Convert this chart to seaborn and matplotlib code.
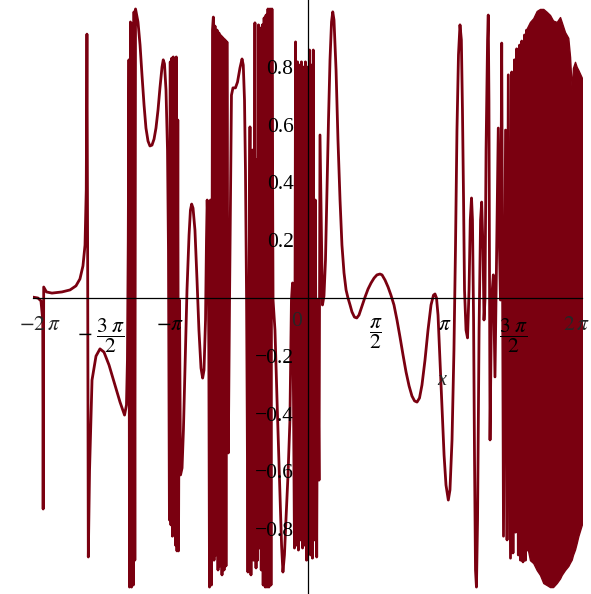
import numpy as np
import matplotlib
matplotlib.use("Agg")
import matplotlib.pyplot as plt
import seaborn as sns

# curve vertices (x in multiples of pi)
curve_x_pi = [
    -2.000, -1.964, -1.942, -1.929, -1.926, -1.922, -1.902, -1.862, -1.789, -1.730,
    -1.687, -1.658, -1.636, -1.621, -1.612, -1.607, -1.602, -1.597, -1.588, -1.570,
    -1.541, -1.512, -1.483, -1.446, -1.403, -1.366, -1.333, -1.319, -1.312, -1.306,
    -1.301, -1.297, -1.290, -1.282, -1.275, -1.269, -1.264, -1.258, -1.253, -1.246,
    -1.235, -1.220, -1.206, -1.191, -1.177, -1.162, -1.148, -1.133, -1.118, -1.104,
    -1.089, -1.075, -1.060, -1.051, -1.042, -1.031, -1.020, -1.013,
    -1.006, -1.000, -0.995, -0.989, -0.984, -0.978, -0.973, -0.967, -0.962, -0.956,
    -0.951, -0.945, -0.940, -0.933, -0.925,
    -0.914, -0.904, -0.893, -0.878, -0.863, -0.853, -0.844, -0.834, -0.820, -0.805,
    -0.791, -0.776, -0.764, -0.754, -0.743, -0.736, -0.731, -0.725, -0.719,
    -0.714, -0.707, -0.700, -0.692, -0.686, -0.681, -0.674, -0.667, -0.659, -0.652,
    -0.645, -0.638, -0.630, -0.623, -0.616, -0.608, -0.601, -0.594, -0.587, -0.577,
    -0.568,
    -0.561, -0.554, -0.543, -0.525, -0.510, -0.492, -0.477, -0.468, -0.459, -0.452,
    -0.444, -0.439,
    -0.434, -0.426, -0.419, -0.412, -0.401, -0.393, -0.383, -0.375, -0.370, -0.364,
    -0.357, -0.351, -0.342, -0.337, -0.329, -0.323, -0.316, -0.308, -0.302, -0.295,
    -0.288, -0.281, -0.273, -0.266, -0.259, -0.251,
    -0.237, -0.222, -0.204, -0.189, -0.179, -0.168, -0.157, -0.142, -0.128, -0.117,
    -0.109,
    -0.102, -0.095, -0.087, -0.080, -0.073, -0.066, -0.058, -0.051, -0.044, -0.036,
    -0.029, -0.022, -0.015, -0.007, 0.000, 0.007, 0.015, 0.022, 0.029, 0.036,
    0.042, 0.050, 0.057, 0.067, 0.074, 0.084, 0.091, 0.109, 0.120,
    0.131, 0.142, 0.153, 0.164, 0.175, 0.184, 0.193, 0.208, 0.222, 0.237,
    0.251, 0.266, 0.281, 0.295, 0.310, 0.324, 0.342, 0.359, 0.375, 0.397,
    0.419, 0.441, 0.463, 0.485, 0.506, 0.528, 0.543, 0.565, 0.587, 0.608,
    0.630, 0.652, 0.674, 0.696, 0.718, 0.740, 0.761, 0.780, 0.798, 0.816,
    0.834, 0.856, 0.878, 0.900, 0.918, 0.929, 0.940, 0.951, 0.965, 0.980,
    0.995, 1.009, 1.026, 1.038, 1.053, 1.067, 1.078, 1.089, 1.100, 1.111,
    1.121, 1.129, 1.137, 1.144, 1.155, 1.166, 1.177, 1.186, 1.195, 1.202,
    1.210, 1.217, 1.224, 1.231, 1.239, 1.250, 1.261, 1.269, 1.279, 1.286,
    1.293, 1.301, 1.312, 1.317, 1.322, 1.330, 1.341, 1.354, 1.366, 1.377,
    1.390, 1.399, 1.406, 1.415, 1.428, 1.443, 1.454, 1.463, 1.479, 1.488,
    1.497, 1.508, 1.516, 1.524, 1.536, 1.545, 1.552, 1.561, 1.570, 1.581,
    1.588, 1.596, 1.603,
]
curve_y = [
    0.003, 0.000, -0.010, -0.076, -0.730, 0.038, 0.021, 0.017, 0.021, 0.028,
    0.042, 0.066, 0.111, 0.183, 0.374, 0.913, 0.166, -0.896, -0.595, -0.284,
    -0.201, -0.176, -0.187, -0.232, -0.301, -0.360, -0.405, -0.370, -0.215, 0.201,
    0.824, -1.000, 0.955, -1.000, 0.948, -0.993, 0.990, -0.907, 1.000, 0.983,
    0.955, 0.875, 0.772, 0.668, 0.588, 0.543, 0.526, 0.529, 0.550, 0.588,
    0.651, 0.727, 0.799, 0.824, 0.810, 0.720, 0.512, 0.166,
    -0.768, 0.817, -0.785, 0.830, -0.824, 0.834, -0.803, 0.824, -0.855, 0.834,
    -0.875, 0.616, -0.875, -0.007, -0.612,
    -0.588, -0.457, -0.249, 0.028, 0.218, 0.304, 0.325, 0.311, 0.235, 0.062,
    -0.111, -0.242, -0.277, -0.249, -0.076, 0.201, 0.339, 0.235, -0.180,
    -1.000, 0.339, -0.993, 0.927, 0.972, -0.907, 0.941, -0.889, 0.927, -0.941,
    0.917, -0.927, 0.907, -0.958, 0.900, -0.941, 0.893, -0.927, 0.886, -0.536,
    -0.007,
    0.339, 0.702, 0.727, 0.727, 0.747, 0.796, 0.827, 0.806, 0.685, 0.443,
    0.000, -0.422,
    -0.948, -0.007, 0.592, -0.958, 0.512, -0.907, 0.952, -0.934, 0.478, -0.907,
    0.945, -0.865, 0.934, -0.941, 0.945, -0.993, 0.969, -1.000, 0.979, -1.000,
    1.000, -1.000, 1.000, -0.993, 1.000, -0.007,
    -0.111, -0.353, -0.630, -0.855, -0.948, -0.889, -0.768, -0.612, -0.422, -0.007,
    0.052,
    -0.353, -0.865, 0.886, -0.855, 0.817, -0.872, 0.806, -0.837, 0.817, -0.865,
    0.799, -0.855, 0.817, -0.907, 0.799, -0.820, 0.858, -0.889, 0.806, -0.900,
    0.858, -0.837, 0.339, -0.896, -0.007, -0.630, 0.564, -0.024, 0.007,
    0.131, 0.374, 0.616, 0.824, 0.955, 0.990, 0.962, 0.789, 0.547, 0.339,
    0.183, 0.087, 0.028, 0.000, -0.024, -0.048, -0.066, -0.069, -0.059, -0.028,
    0.003, 0.031, 0.052, 0.069, 0.080, 0.083, 0.080, 0.062, 0.038, 0.010,
    -0.024, -0.076, -0.135, -0.197, -0.256, -0.304, -0.339, -0.356, -0.360, -0.346,
    -0.301, -0.215, -0.111, -0.024, 0.010, 0.014, 0.000, -0.059, -0.215, -0.388,
    -0.543, -0.647, -0.699, -0.664, -0.491, -0.180, 0.166, 0.581, 0.841, 0.945,
    0.893, 0.651, 0.339, 0.028, -0.111, -0.138, 0.028, 0.270, 0.346, 0.270,
    -0.076, -0.561, -0.941, -1.000, -0.768, -0.111, 0.270, 0.332, 0.166, -0.076,
    -0.007, 0.512, 0.893, 0.979, 0.685, -0.491, -0.007, 0.080, -0.273, 0.131,
    0.588, 0.166, -0.007, 0.882, -0.824, 0.581, -0.837, 0.772, -0.900, 0.782,
    -0.882, 0.824, -0.810, 0.862, -0.889, 0.875, -0.907, 0.889, -0.913, 0.910,
    -0.907, 0.927, -0.872,
]

# near 2*pi the oscillation fills a solid band: upper and lower edge
band_x_pi = [1.599, 1.621, 1.645, 1.670, 1.694, 1.718, 1.743, 1.767, 1.789, 1.816,
             1.840, 1.852, 1.876, 1.900, 1.913, 1.925, 1.934, 1.949, 1.961, 1.973, 2.000]
band_top = [0.934, 0.955, 0.968, 0.993, 1.000, 1.000, 0.990, 0.979, 0.960, 0.955,
            0.972, 0.955, 0.920, 0.900, 0.834, 0.720, 0.796, 0.817, 0.800, 0.789, 0.761]
band_bottom = [-0.855, -0.907, -0.917, -0.941, -0.958, -0.986, -0.993, -1.000, -1.000, -0.986,
               -0.970, -0.958, -0.941, -0.927, -0.915, -0.905, -0.889, -0.870, -0.848, -0.824, -0.782]

x_ticks_pi = [-2, -1.5, -1, -0.5, 0.5, 1, 1.5, 2]
# the two end labels are placed by hand so they stay inside the picture
x_tick_labels = ["", r"$-\;\dfrac{3\ \pi}{2}$", r"$-\pi$", "",
                 r"$\dfrac{\pi}{2}$", r"$\pi$", r"$\dfrac{3\ \pi}{2}$", ""]
y_ticks = [-0.8, -0.6, -0.4, -0.2, 0.2, 0.4, 0.6, 0.8]
y_tick_labels = ["\u22120.8", "\u22120.6", "\u22120.4", "\u22120.2", "0.2", "0.4", "0.6", "0.8"]

sns.set_style("white")
plt.rcParams["font.family"] = ["Liberation Serif", "DejaVu Serif"]
plt.rcParams["mathtext.fontset"] = "stix"

line_color = "#7a0010"
fsize = 15.5

fig = plt.figure(figsize=(5.91, 5.94), dpi=100)
ax = fig.add_axes([33 / 591, 0.0, 549 / 591, 1.0])
ax.set_axisbelow(False)

xs = np.array(curve_x_pi) * np.pi
sns.lineplot(x=xs, y=curve_y, sort=False, estimator=None, color=line_color,
             linewidth=2.0, ax=ax, zorder=2)
bx = np.array(band_x_pi) * np.pi
ax.fill_between(bx, band_bottom, band_top, color=line_color, linewidth=1.0,
                edgecolor=line_color, zorder=2)

ax.set_xlim(-2 * np.pi, 2 * np.pi)
ax.set_ylim(-1.024, 1.031)

for side in ["top", "right"]:
    ax.spines[side].set_visible(False)
ax.spines["left"].set_position(("data", 0))
ax.spines["bottom"].set_position(("data", 0))
for side in ["left", "bottom"]:
    ax.spines[side].set_color("black")
    ax.spines[side].set_linewidth(0.9)
    ax.spines[side].set_zorder(5)

ax.set_xticks(np.array(x_ticks_pi) * np.pi)
ax.set_xticklabels(x_tick_labels)
ax.set_yticks(y_ticks)
ax.set_yticklabels(y_tick_labels)
ax.tick_params(axis="x", length=3, width=0.8, pad=10, labelsize=fsize, colors="black")
ax.tick_params(axis="y", length=3, width=0.8, pad=7, labelsize=fsize, colors="black")
ax.grid(False)

ax.annotate(r"$-2\,\pi$", xy=(-2 * np.pi, 0), xytext=(7, -18), textcoords="offset pixels",
            ha="center", va="top", fontsize=fsize, zorder=6)
ax.annotate(r"$2\,\pi$", xy=(2 * np.pi, 0), xytext=(8, -18), textcoords="offset pixels",
            ha="right", va="top", fontsize=fsize, zorder=6)
ax.annotate("0", xy=(0, 0), xytext=(-11, -14), textcoords="offset pixels",
            ha="center", va="top", fontsize=fsize, zorder=6)
ax.text(0.98 * np.pi, -0.284, "x", ha="center", va="center", fontsize=fsize - 1,
        style="italic", zorder=6)

fig.savefig("out.png", dpi=100)
